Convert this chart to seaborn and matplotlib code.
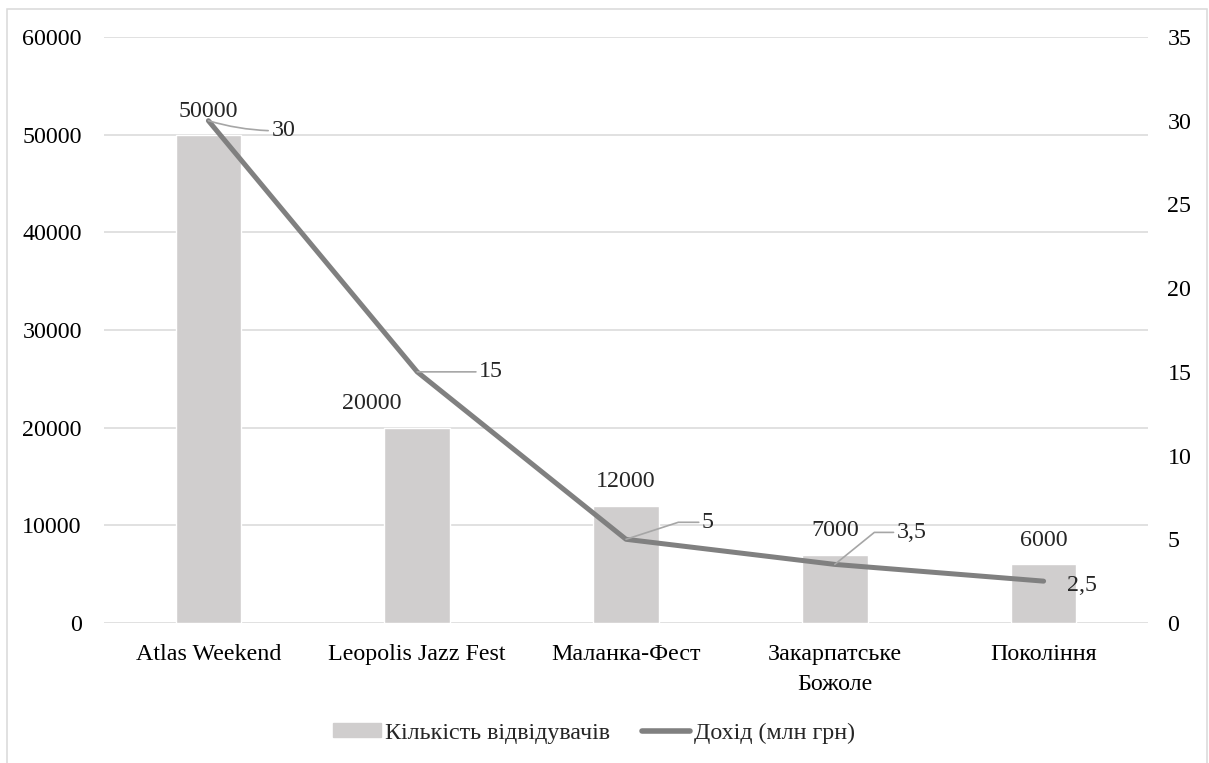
import numpy as np
import pandas as pd
import matplotlib
matplotlib.use("Agg")
import matplotlib.pyplot as plt
import matplotlib.patches as mpatches
from matplotlib.lines import Line2D
import seaborn as sns

# ── Data ───────────────────────────────────────────────────────────────────────
festivals = ["Atlas Weekend", "Leopolis Jazz Fest", "Маланка-Фест",
             "Закарпатське\nБожоле", "Покоління"]
visitors = [50000, 20000, 12000, 7000, 6000]
income = [30, 15, 5, 3.5, 2.5]
income_labels = ["30", "15", "5", "3,5", "2,5"]

visitors_name = "Кількість відвідувачів"
income_name = "Дохід (млн грн)"

left_ticks = [0, 10000, 20000, 30000, 40000, 50000, 60000]
right_ticks = [0, 5, 10, 15, 20, 25, 30, 35]

# ── Style ──────────────────────────────────────────────────────────────────────
BAR_COLOR = "#d0cece"
LINE_COLOR = "#808080"
GRID_COLOR = "#d9d9d9"
LEADER_COLOR = "#a6a6a6"
FS = 17.3

sns.set_theme(style="white")
plt.rcParams["font.family"] = ["Liberation Serif", "DejaVu Serif"]

# label placement (pixels, relative to the data point)
bar_label_offsets = [(0, 23), (-45, 24), (0, 24), (0, 24), (0, 24)]
line_label_offsets = [(75, -10), (74, 0), (82, 17), (77, 32), (38, -4)]
leader_styles = ["arc3,rad=-0.08", "arc3,rad=0",
                 "angle,angleA=0,angleB=18,rad=0",
                 "angle,angleA=0,angleB=39,rad=0", None]

df = pd.DataFrame({"festival": festivals, "visitors": visitors,
                   "income": income, "pos": np.arange(len(festivals))})

fig = plt.figure(figsize=(12.09, 7.63), dpi=100)
ax = fig.add_axes([104 / 1209, 1 - 623 / 763, (1148 - 104) / 1209, (623 - 37) / 763])

sns.barplot(data=df, x="festival", y="visitors", color=BAR_COLOR,
            saturation=1, width=0.315, ax=ax)
ax.set_xlim(-0.5, len(festivals) - 0.5)
ax.set_ylim(0, 60000)
ax.set_yticks(left_ticks)
ax.set_xlabel("")
ax.set_ylabel("")
ax.yaxis.grid(True, color=GRID_COLOR, lw=1.1)
ax.set_axisbelow(True)
for s in ax.spines.values():
    s.set_visible(False)
ax.tick_params(axis="y", length=0, pad=16, labelsize=FS, colors="black")
ax.tick_params(axis="x", length=0, pad=15, labelsize=FS, colors="black")
plt.setp(ax.get_xticklabels(), linespacing=1.6)

ax2 = ax.twinx()
sns.lineplot(data=df, x="pos", y="income", color=LINE_COLOR, lw=3.6,
             ax=ax2, solid_joinstyle="round", solid_capstyle="round")
ax2.set_ylim(0, 35)
ax2.set_yticks(right_ticks)
ax2.set_xlim(-0.5, len(festivals) - 0.5)
ax2.set_ylabel("")
ax2.set_xlabel("")
ax2.grid(False)
for s in ax2.spines.values():
    s.set_visible(False)
ax2.tick_params(axis="y", length=0, pad=14, labelsize=FS, colors="black")

# bar value labels
for i, v in enumerate(visitors):
    ax2.annotate(str(v), xy=(i, v), xycoords=ax.transData,
                 xytext=bar_label_offsets[i], textcoords="offset pixels",
                 ha="center", va="center", fontsize=FS, zorder=5)

# line value labels with leader lines
for i, v in enumerate(income):
    arrow = None
    if leader_styles[i]:
        arrow = dict(arrowstyle="-", color=LEADER_COLOR, lw=1.2,
                     shrinkA=0, shrinkB=0, connectionstyle=leader_styles[i])
    ax2.annotate(income_labels[i], xy=(i, v),
                 xytext=line_label_offsets[i], textcoords="offset pixels",
                 ha="center", va="center", fontsize=FS, arrowprops=arrow,
                 zorder=5)

# legend
handles = [mpatches.Patch(color=BAR_COLOR, label=visitors_name),
           Line2D([0], [0], color=LINE_COLOR, lw=4, label=income_name)]
fig.legend(handles=handles, loc="center", bbox_to_anchor=(594 / 1209, 1 - 733 / 763),
           ncol=2, frameon=False, fontsize=FS, handlelength=2.0,
           handleheight=0.5, handletextpad=0.2, columnspacing=1.3)

# chart border
fig.patches.append(mpatches.Rectangle((7 / 1209, -0.02), 1200 / 1209, 1.02 - 9 / 763,
                                      transform=fig.transFigure, fill=False,
                                      edgecolor=GRID_COLOR, lw=1.1))

fig.savefig("out.png", dpi=100)
